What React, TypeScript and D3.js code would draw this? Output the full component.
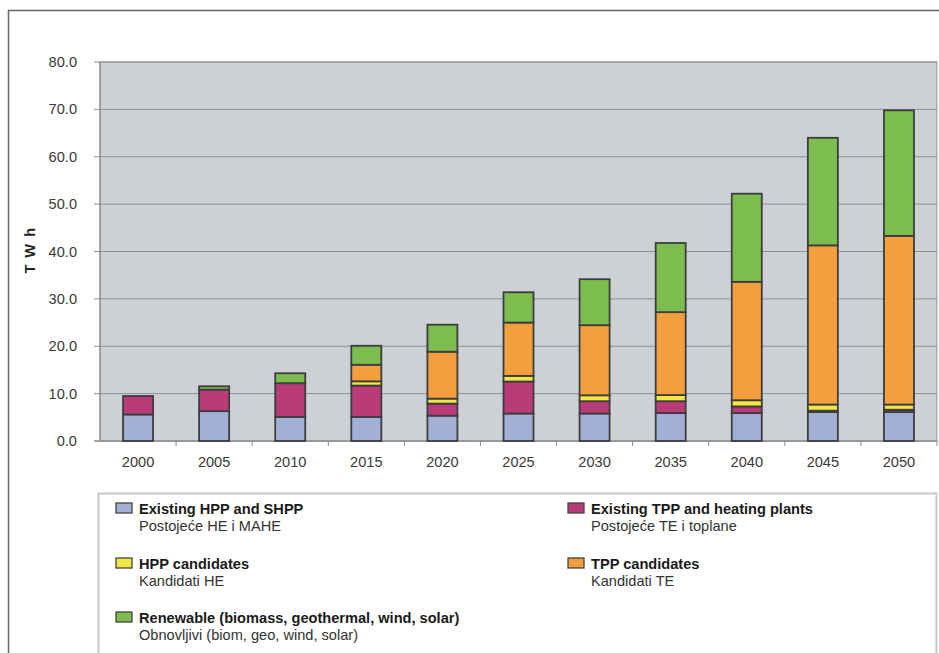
import React from "react";
import * as d3 from "d3";

const years = ["2000", "2005", "2010", "2015", "2020", "2025", "2030", "2035", "2040", "2045", "2050"];

// TWh per series and year
const existingHpp = [5.6, 6.3, 5.1, 5.1, 5.35, 5.8, 5.8, 5.9, 5.9, 6.1, 6.1];
const existingTpp = [3.9, 4.55, 7.1, 6.6, 2.55, 6.75, 2.6, 2.5, 1.4, 0.3, 0.5];
const hppCandidates = [0, 0, 0, 0.9, 1.05, 1.2, 1.25, 1.3, 1.3, 1.3, 1.1];
const tppCandidates = [0, 0, 0, 3.5, 9.9, 11.25, 14.8, 17.5, 25.0, 33.6, 35.6];
const renewables = [0, 0.7, 2.1, 4.0, 5.7, 6.4, 9.7, 14.6, 18.6, 22.7, 26.5];

const yTicks = [0, 10, 20, 30, 40, 50, 60, 70, 80];

const seriesKeys = ["hpp", "tpp", "hppC", "tppC", "ren"];
const seriesValues = [existingHpp, existingTpp, hppCandidates, tppCandidates, renewables];
const seriesColors = ["#a3b0d6", "#b93b78", "#f1e845", "#f39f3d", "#7dbd4f"];
const legendBold = [
  "Existing HPP and SHPP",
  "Existing TPP and heating plants",
  "HPP candidates",
  "TPP candidates",
  "Renewable (biomass, geothermal, wind, solar)",
];
const legendLocal = [
  "Postojeće HE i MAHE",
  "Postojeće TE i toplane",
  "Kandidati HE",
  "Kandidati TE",
  "Obnovljivi (biom, geo, wind, solar)",
];

const W = 939;
const H = 653;
const plot = { left: 100, right: 937, top: 62, bottom: 441 };

export default function App() {
  const rows = years.map((y, i) => {
    const r: Record<string, any> = { year: y };
    seriesKeys.forEach((k, s) => (r[k] = seriesValues[s][i]));
    return r;
  });
  const stacked = d3.stack().keys(seriesKeys)(rows as any);

  const x = d3.scaleBand().domain(years).range([plot.left, plot.right]).paddingInner(0).paddingOuter(0);
  const y = d3.scaleLinear().domain([0, 80]).range([plot.bottom, plot.top]);
  const barW = 30;
  const font = "Liberation Sans, Arial, Helvetica, sans-serif";
  const fs = 14.6;

  // legend layout: two columns, three rows
  const legendPos = [
    { x: 116, y: 514 },
    { x: 568, y: 514 },
    { x: 116, y: 569 },
    { x: 568, y: 569 },
    { x: 116, y: 623 },
  ];

  return (
    <svg
      width={W}
      height={H}
      style={{ position: "absolute", left: 0, top: 0, display: "block", background: "#fff" }}
      fontFamily={font}
    >
      {/* outer frame */}
      <rect x={8.5} y={10.5} width={W + 20} height={H + 20} fill="none" stroke="#666" strokeWidth={1.5} />

      {/* plot background */}
      <rect
        x={plot.left}
        y={plot.top}
        width={plot.right - plot.left}
        height={plot.bottom - plot.top}
        fill="#cdd0d4"
        stroke="#9a9a9a"
        strokeWidth={1}
      />

      {/* gridlines and y ticks */}
      {yTicks.map((t) => (
        <g key={t}>
          <line x1={plot.left} x2={plot.right} y1={y(t)} y2={y(t)} stroke="#909090" strokeWidth={1} />
          <line x1={94} x2={plot.left} y1={y(t)} y2={y(t)} stroke="#909090" strokeWidth={1} />
          <text x={77} y={y(t) + 5} textAnchor="end" fontSize={fs} fill="#3a3a3a">
            {t.toFixed(1)}
          </text>
        </g>
      ))}
      <line x1={plot.left} x2={plot.left} y1={plot.top} y2={plot.bottom} stroke="#8a8a8a" strokeWidth={1.2} />

      {/* x axis */}
      <line x1={94} x2={plot.right} y1={plot.bottom} y2={plot.bottom} stroke="#8a8a8a" strokeWidth={1.2} />
      {years.map((yr) => (
        <g key={yr}>
          <line
            x1={x(yr)! + x.bandwidth()}
            x2={x(yr)! + x.bandwidth()}
            y1={plot.bottom}
            y2={plot.bottom + 5}
            stroke="#8a8a8a"
            strokeWidth={1}
          />
          <text x={x(yr)! + x.bandwidth() / 2} y={467} textAnchor="middle" fontSize={fs} fill="#3a3a3a">
            {yr}
          </text>
        </g>
      ))}

      {/* stacked bars */}
      {stacked.map((layer, s) =>
        layer.map((d, i) => {
          const h = y(d[0]) - y(d[1]);
          if (h <= 0) return null;
          const cx = x(years[i])! + x.bandwidth() / 2;
          return (
            <rect
              key={`${s}-${i}`}
              x={cx - barW / 2}
              y={y(d[1])}
              width={barW}
              height={h}
              fill={seriesColors[s]}
              stroke="#3d3d3d"
              strokeWidth={1.8}
            />
          );
        })
      )}

      {/* y axis title */}
      <text
        transform={`translate(35, 250) rotate(-90)`}
        textAnchor="middle"
        fontSize={fs}
        fontWeight="bold"
        letterSpacing={1.5}
        fill="#222"
      >
        T W h
      </text>

      {/* legend */}
      <rect x={98.5} y={493.5} width={838} height={200} fill="#fff" stroke="#c8c8c8" strokeWidth={2} />
      {legendPos.map((p, s) => (
        <g key={s}>
          <rect x={p.x} y={p.y - 11} width={16} height={10} fill={seriesColors[s]} stroke="#444" strokeWidth={1.3} />
          <text x={p.x + 23} y={p.y} fontSize={fs} fontWeight="bold" fill="#1a1a1a">
            {legendBold[s]}
          </text>
          <text x={p.x + 23} y={p.y + 17} fontSize={fs} fill="#333">
            {legendLocal[s]}
          </text>
        </g>
      ))}
    </svg>
  );
}
